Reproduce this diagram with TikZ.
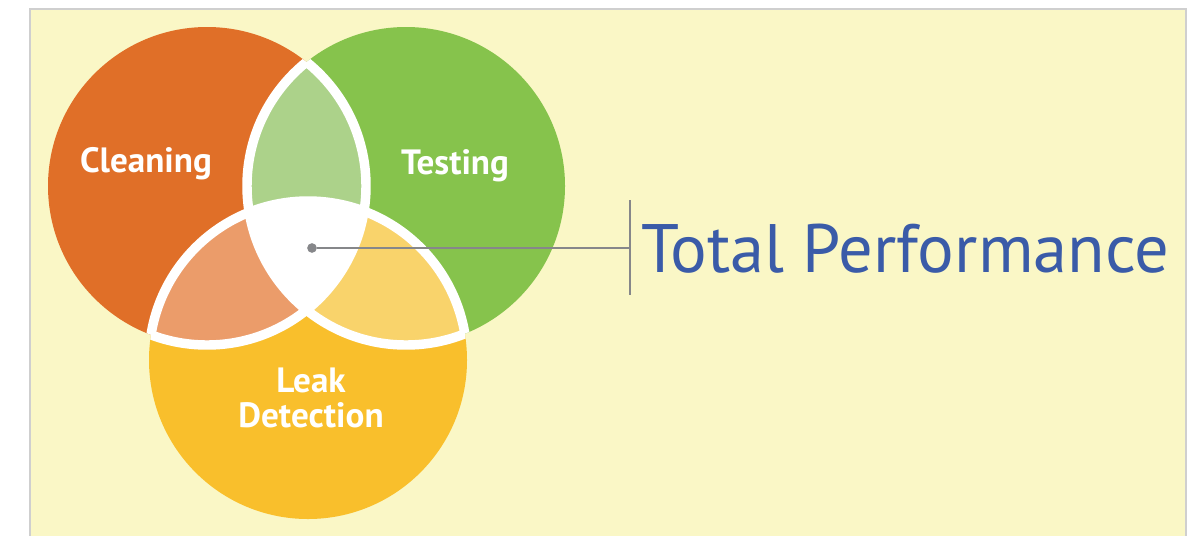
\documentclass[tikz,border=0pt]{standalone}
\usepackage{fontspec}
\setmainfont{PT Sans}
\usepackage{tikz}
\definecolor{cream}{HTML}{FAF7C6}
\definecolor{frame}{HTML}{CFCFCF}
\definecolor{clean}{HTML}{E06F28}
\definecolor{test}{HTML}{86C34C}
\definecolor{leak}{HTML}{F9BF2C}
\definecolor{cleantest}{HTML}{ACD28A}
\definecolor{cleanleak}{HTML}{EB9C6A}
\definecolor{testleak}{HTML}{F9D36B}
\definecolor{pointer}{HTML}{86878A}
\definecolor{perf}{HTML}{3A5BA8}

\begin{document}
\begin{tikzpicture}[x=0.02cm, y=-0.02cm]
\tikzstyle{label}=[text=white, font=\fontsize{20}{20}\selectfont\bfseries, align=center]
\tikzstyle{gap}=[draw=white, line width=9.5*0.567pt]
\useasboundingbox (0,0) rectangle (1192,535);
\fill[white] (0,0) rectangle (1192,535);
\filldraw[fill=cream, draw=frame, line width=1pt] (30,9) rectangle (1186,545);

\coordinate (c) at (207,186);
\coordinate (t) at (406,186);
\coordinate (l) at (308,360);
\def\rad{159}

\fill[clean] (c) circle (\rad);
\fill[test] (t) circle (\rad);
\fill[leak] (l) circle (\rad);

\begin{scope}
\clip (c) circle (\rad);
\fill[cleantest] (t) circle (\rad);
\fill[cleanleak] (l) circle (\rad);
\clip (t) circle (\rad);
\fill[white] (l) circle (\rad);
\end{scope}
\begin{scope}
\clip (t) circle (\rad);
\fill[testleak] (l) circle (\rad);
\clip (c) circle (\rad);
\fill[white] (l) circle (\rad);
\end{scope}

\begin{scope}
\clip (t) circle (\rad) (l) circle (\rad);
\draw[gap] (c) circle (\rad);
\end{scope}
\begin{scope}
\clip (c) circle (\rad) (l) circle (\rad);
\draw[gap] (t) circle (\rad);
\end{scope}
\begin{scope}
\clip (c) circle (\rad) (t) circle (\rad);
\draw[gap] (l) circle (\rad);
\end{scope}

\node[label] (cleaning) at (146,164) {Cleaning};
\node[label] (testing) at (455,166) {Testing};
\node[label] (leakdet) at (311,398) {Leak\\Detection};

\node[circle, fill=pointer, minimum size=5.5pt, inner sep=0pt] (hub) at (312,248) {};
\coordinate (bar) at (630,248);
\coordinate (bartop) at (630,200);
\coordinate (barbot) at (630,295);
\draw[pointer, line width=1.4pt] (hub) -- (bar);
\draw[pointer, line width=1.2pt] (bartop) -- (barbot);

\node[anchor=base west, inner sep=0pt, text=perf, font=\fontsize{39}{42}\selectfont] (total) at (641,272) {Total Performance};
\end{tikzpicture}
\end{document}
